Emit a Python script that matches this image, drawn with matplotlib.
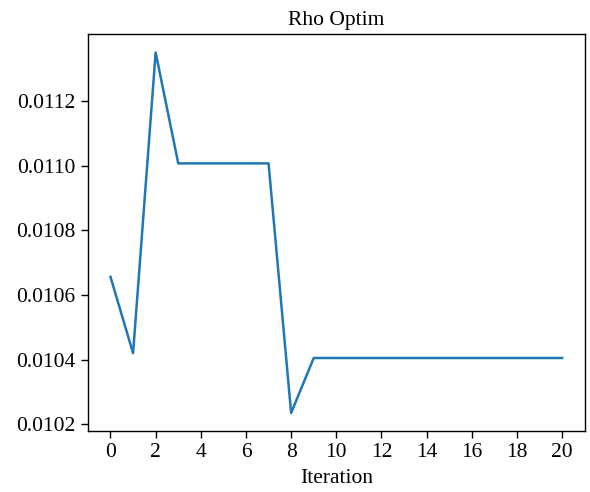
import matplotlib
matplotlib.use("Agg")
import matplotlib.pyplot as plt

# values
iterations = list(range(21))
rho = [0.010656, 0.010420, 0.011350, 0.011007, 0.011007, 0.011007, 0.011007,
       0.011007, 0.010235] + [0.010405] * 12

plt.rcParams["font.family"] = ["Liberation Serif", "DejaVu Serif"]
plt.rcParams["font.size"] = 15.5

fig = plt.figure(figsize=(5.9, 4.92), dpi=100)
ax = fig.add_axes([0.149, 0.124, 0.842, 0.806])
ax.plot(iterations, rho, color="#1f77b4", linewidth=1.8)
ax.set_xticks(range(0, 21, 2))
ax.set_yticks([0.0102, 0.0104, 0.0106, 0.0108, 0.0110, 0.0112])
ax.set_yticklabels(["0.0102", "0.0104", "0.0106", "0.0108", "0.0110", "0.0112"])
ax.tick_params(length=4.8, width=1.0, pad=4)
for s in ax.spines.values():
    s.set_linewidth(1.0)
ax.set_title("Rho Optim", fontsize=15.5, pad=7)
ax.set_xlabel("Iteration", labelpad=5)

fig.savefig("out.png", dpi=100)
